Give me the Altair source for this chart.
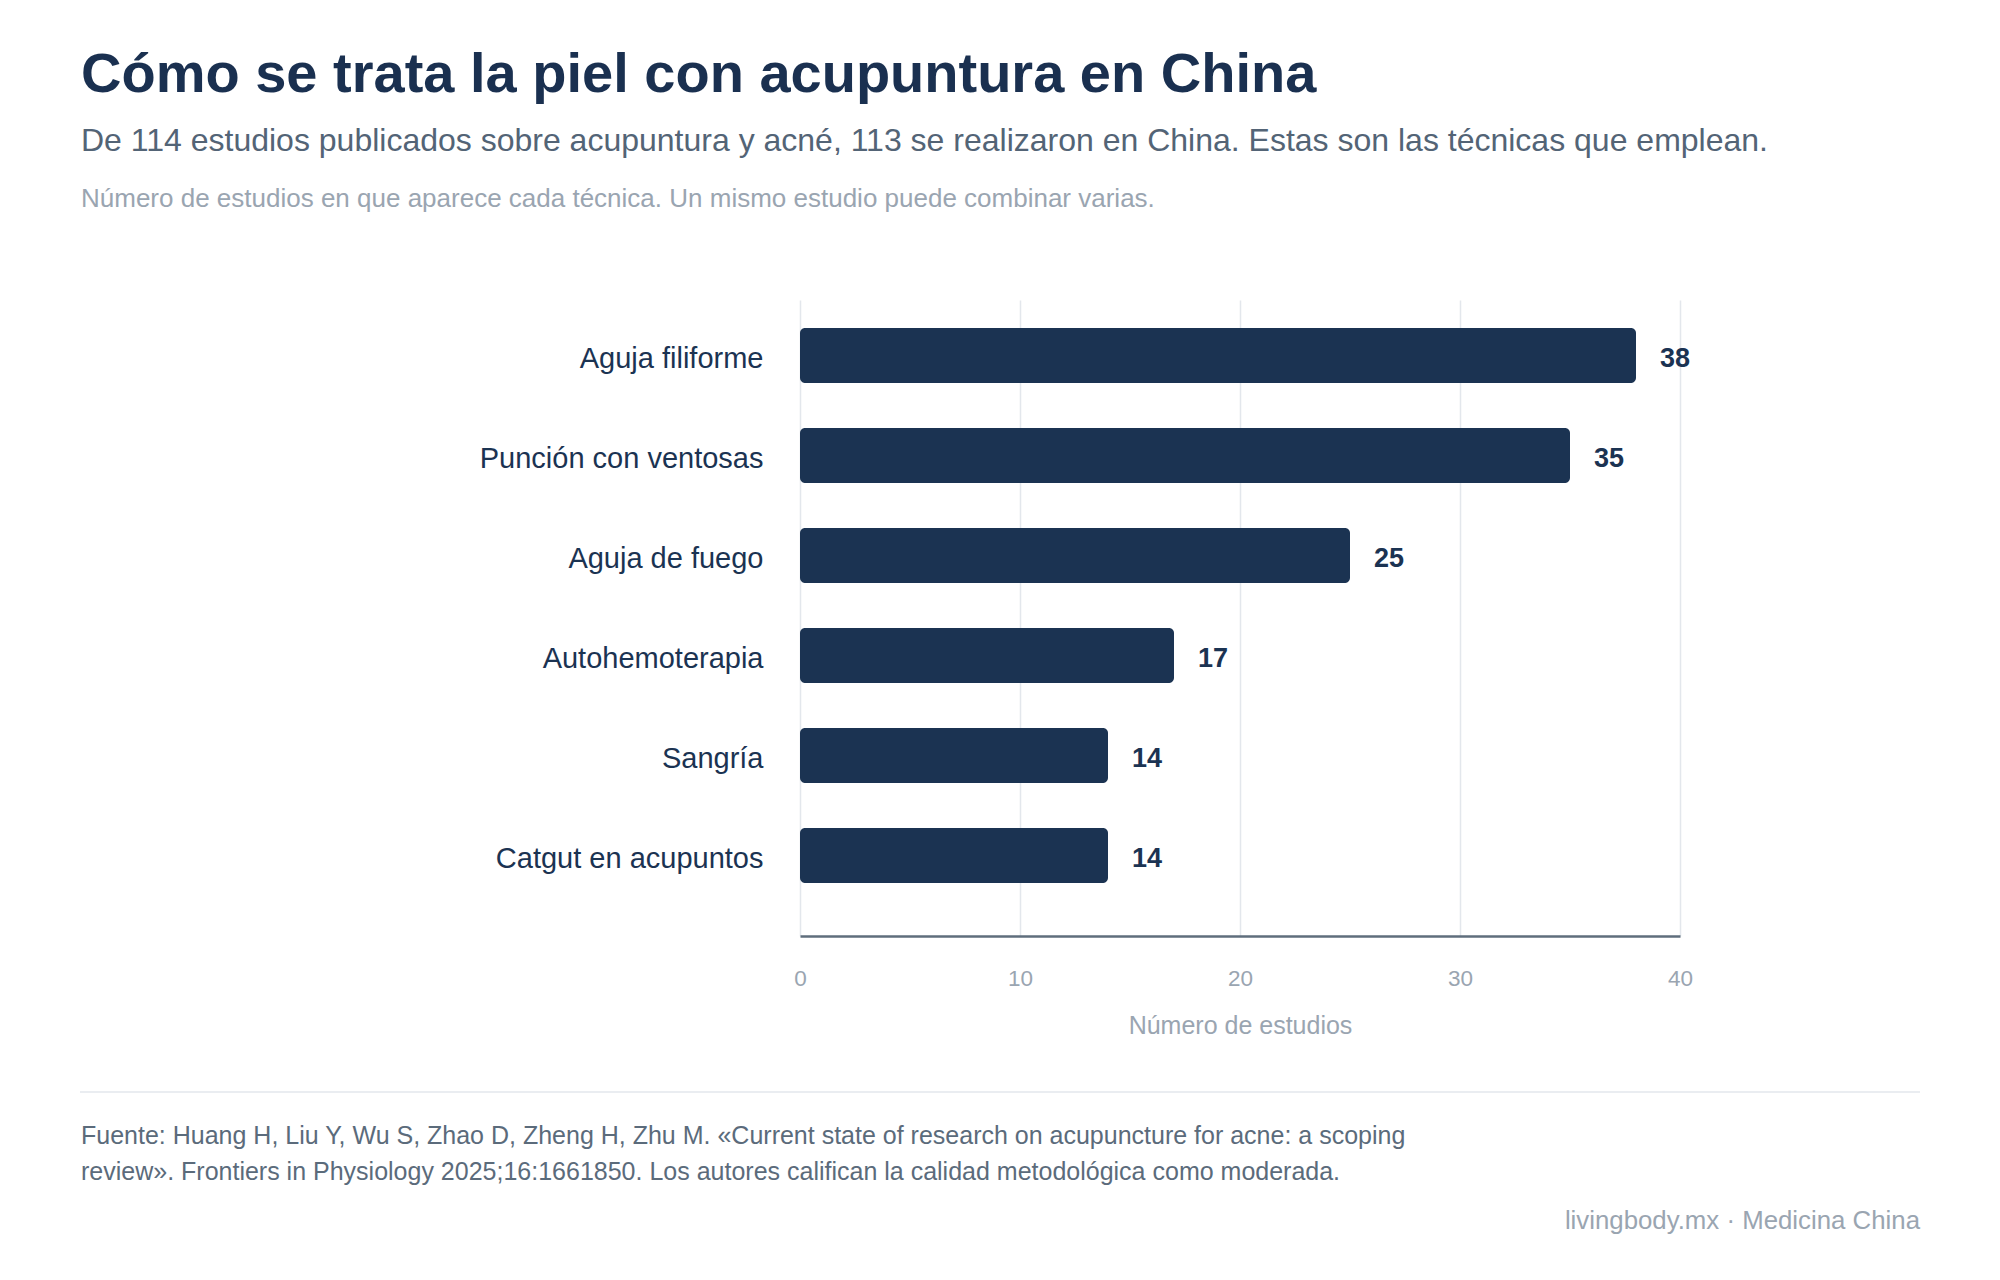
import altair as alt
import pandas as pd

# ---- data ----
categories = ["Aguja filiforme", "Punción con ventosas", "Aguja de fuego",
              "Autohemoterapia", "Sangría", "Catgut en acupuntos"]
values = [38, 35, 25, 17, 14, 14]
x_ticks = [0, 10, 20, 30, 40]

title_text = "Cómo se trata la piel con acupuntura en China"
subtitle_text = ("De 114 estudios publicados sobre acupuntura y acné, 113 se realizaron en China. "
                 "Estas son las técnicas que emplean.")
note_text = "Número de estudios en que aparece cada técnica. Un mismo estudio puede combinar varias."
footer_line1 = ("Fuente: Huang H, Liu Y, Wu S, Zhao D, Zheng H, Zhu M. «Current state of research on "
                "acupuncture for acne: a scoping")
footer_line2 = ("review». Frontiers in Physiology 2025;16:1661850. Los autores califican la calidad "
                "metodológica como moderada.")
brand_text = "livingbody.mx · Medicina China"
x_title = "Número de estudios"

df = pd.DataFrame({"tecnica": categories, "estudios": values})

FONT = "Liberation Sans"
NAVY = "#1b3352"
GRAY = "#9aa5b1"
SLATE = "#536476"

y_enc = alt.Y("tecnica:N", sort=categories,
              scale=alt.Scale(paddingInner=0.45, paddingOuter=0.405, align=0.346),
              axis=alt.Axis(title=None, labelFont=FONT, labelFontSize=29, labelColor=NAVY,
                            labelPadding=37, labelLimit=600, labelOffset=3,
                            ticks=False, domain=False, grid=False))
x_enc = alt.X("estudios:Q",
              scale=alt.Scale(domain=[0, 40], nice=False),
              axis=alt.Axis(values=x_ticks, title=x_title, titleFont=FONT, titleFontSize=25,
                            titleFontWeight="normal", titleColor=GRAY, titlePadding=24,
                            labelFont=FONT, labelFontSize=22.5, labelColor=GRAY, labelPadding=31,
                            labelFlush=False,
                            ticks=False, domain=True, domainColor="#5f6e7c", domainWidth=2.5,
                            grid=True, gridColor="#e3e7ec", gridWidth=1.5))

bars = alt.Chart(df).mark_bar(color=NAVY, cornerRadius=5).encode(x=x_enc, y=y_enc)
labels = alt.Chart(df).mark_text(align="left", baseline="middle", dx=24, dy=3, font=FONT,
                                 fontSize=27, fontWeight="bold", color=NAVY).encode(
    x="estudios:Q", y=alt.Y("tecnica:N", sort=categories), text="estudios:Q")


def txt(s, x, y, size, color, weight="normal", align="left"):
    return alt.Chart(pd.DataFrame({"t": [s]})).mark_text(
        align=align, baseline="alphabetic", font=FONT, fontSize=size,
        fontWeight=weight, color=color).encode(text="t:N", x=alt.value(x), y=alt.value(y))

# origin of plot area is at page (800, 300)
OX, OY = 800, 300
title = txt(title_text, 81 - OX, 92 - OY, 56, "#1a3050", "bold")
subtitle = txt(subtitle_text, 81 - OX, 151 - OY, 32, SLATE)
note = txt(note_text, 81 - OX, 207 - OY, 26, GRAY)
foot1 = txt(footer_line1, 81 - OX, 1144 - OY, 25, "#5b6b7b")
foot2 = txt(footer_line2, 81 - OX, 1180 - OY, 25, "#5b6b7b")
brand = txt(brand_text, 1920 - OX, 1229 - OY, 25.8, GRAY, align="right")

rule = alt.Chart(pd.DataFrame({"r": [0]})).mark_rule(color="#e3e7ec", strokeWidth=1.5).encode(
    x=alt.value(80 - OX), x2=alt.value(1920 - OX), y=alt.value(1092 - OY))

chart = alt.layer(bars, labels, title, subtitle, note, rule, foot1, foot2, brand).properties(
    width=880, height=636,
    autosize=alt.AutoSizeParams(type="none"),
    padding={"left": 792, "top": 292, "right": 290, "bottom": 330},
    background="white",
).configure_view(stroke=None)

chart.save("out.html", embed_options={"renderer": "svg", "actions": False})
